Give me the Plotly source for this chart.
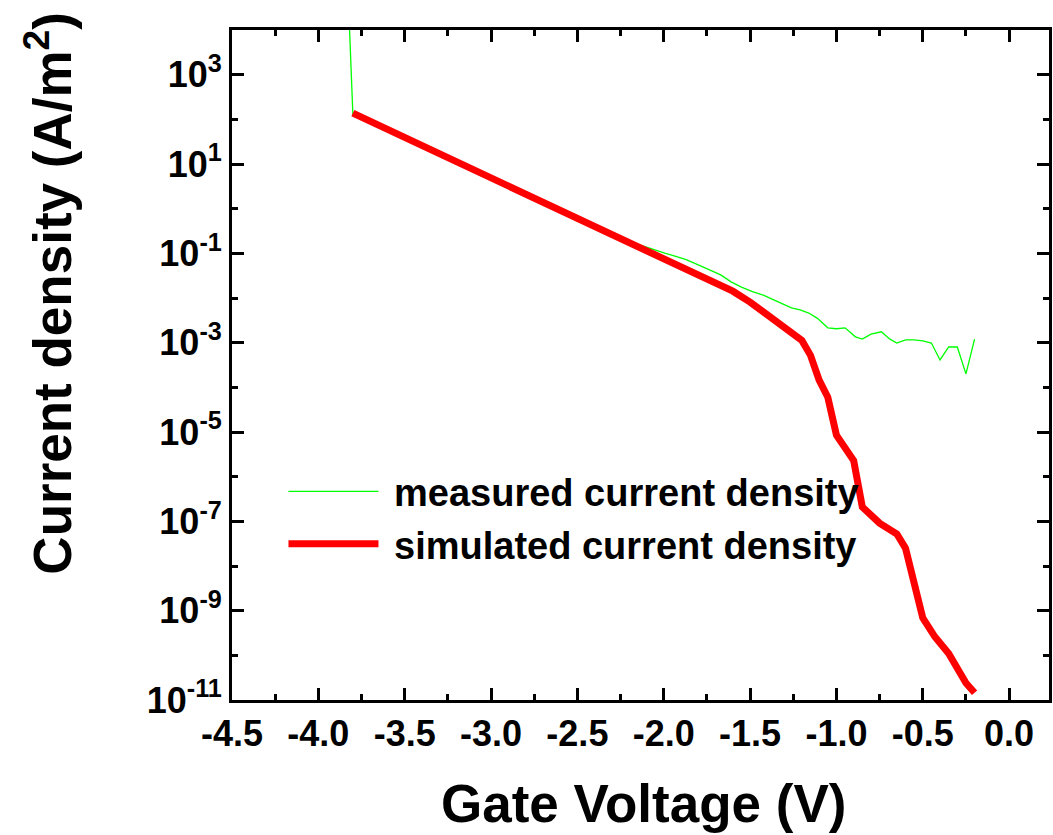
import plotly.graph_objects as go

# Gate voltage (V) and current density (A/m^2)
meas_v = [-3.82, -3.80, -3.60, -3.40, -3.20, -3.00, -2.80, -2.60, -2.40, -2.20,
          -2.13, -2.06, -1.99, -1.93, -1.87, -1.80, -1.74, -1.67, -1.61, -1.55,
          -1.49, -1.42, -1.36, -1.30, -1.26, -1.21, -1.16, -1.11, -1.05, -1.00,
          -0.95, -0.89, -0.85, -0.80, -0.74, -0.69, -0.65, -0.60, -0.55, -0.50,
          -0.45, -0.40, -0.35, -0.30, -0.25, -0.20]
meas_j = [1.2e4, 1.30e2, 5.6e1, 2.4e1, 1.05e1, 4.6, 2.0, 8.7e-1, 3.8e-1, 1.65e-1,
          1.50e-1, 1.20e-1, 1.00e-1, 8.6e-2, 7.2e-2, 5.5e-2, 4.3e-2, 3.3e-2, 2.3e-2, 1.75e-2,
          1.40e-2, 1.15e-2, 9.0e-3, 7.0e-3, 6.0e-3, 5.4e-3, 4.6e-3, 3.5e-3, 2.15e-3, 2.05e-3,
          2.15e-3, 1.35e-3, 1.20e-3, 1.55e-3, 1.75e-3, 1.20e-3, 9.8e-4, 1.15e-3, 1.15e-3, 1.10e-3,
          9.8e-4, 4.1e-4, 8.0e-4, 8.0e-4, 2.0e-4, 1.2e-3]

sim_v = [-3.80, -3.60, -3.40, -3.20, -3.00, -2.80, -2.60, -2.40, -2.20, -2.00,
         -1.80, -1.70, -1.60, -1.50, -1.40, -1.33, -1.25, -1.20, -1.15, -1.10,
         -1.05, -1.00, -0.90, -0.85, -0.75, -0.65, -0.60, -0.55, -0.50, -0.43,
         -0.35, -0.25, -0.20]
sim_j = [1.38e2, 6.0e1, 2.6e1, 1.13e1, 4.9, 2.1, 9.3e-1, 4.1e-1, 1.78e-1, 7.9e-2,
         3.6e-2, 2.3e-2, 1.42e-2, 8.1e-3, 4.2e-3, 2.6e-3, 1.55e-3, 1.12e-3, 5.2e-4, 1.45e-4,
         6.0e-5, 8.5e-6, 2.3e-6, 2.1e-7, 9.1e-8, 5.2e-8, 2.5e-8, 3.4e-9, 6.9e-10, 2.6e-10,
         1.1e-10, 2.4e-11, 1.45e-11]

x_ticks = [-4.5, -4.0, -3.5, -3.0, -2.5, -2.0, -1.5, -1.0, -0.5, 0.0]
x_tick_text = ["-4.5", "-4.0", "-3.5", "-3.0", "-2.5", "-2.0", "-1.5", "-1.0", "-0.5", "0.0"]
x_minor = [-4.25, -3.75, -3.25, -2.75, -2.25, -1.75, -1.25, -0.75, -0.25]
y_exponents = [3, 1, -1, -3, -5, -7, -9, -11]
y_minor_exponents = [2, 0, -2, -4, -6, -8, -10]

FONT = "Liberation Sans, Arial, sans-serif"
NBSP = "\u00a0"

fig = go.Figure()
fig.add_trace(go.Scatter(
    x=meas_v, y=meas_j, mode="lines", name=NBSP + "measured current density",
    line=dict(color="#00ff00", width=1.3),
))
fig.add_trace(go.Scatter(
    x=sim_v, y=sim_j, mode="lines", name=NBSP + "simulated current density",
    line=dict(color="#ff0000", width=7),
))

axis_common = dict(
    showline=True, linecolor="black", linewidth=3, mirror="allticks",
    ticks="inside", ticklen=12, tickwidth=3, tickcolor="black",
    showgrid=False, zeroline=False,
    tickfont=dict(family=FONT, size=36, color="black", weight="bold"),
)

fig.update_xaxes(
    range=[-4.5, 0.231],
    tickmode="array", tickvals=x_ticks, ticktext=x_tick_text,
    minor=dict(tickmode="array", tickvals=x_minor, ticks="inside",
               ticklen=6, tickwidth=3, tickcolor="black"),
    ticklabelstandoff=0,
    **axis_common,
)
fig.update_yaxes(
    type="log", range=[-11, 4],
    tickmode="array",
    tickvals=[10.0 ** e for e in y_exponents],
    ticktext=[f"10<sup>{e}</sup>" for e in y_exponents],
    minor=dict(tickmode="array", tickvals=[10.0 ** e for e in y_minor_exponents],
               ticks="inside", ticklen=6, tickwidth=3, tickcolor="black"),
    ticklabelstandoff=0,
    **axis_common,
)

fig.add_annotation(
    text="Gate Voltage (V)", xref="paper", yref="paper", x=0.504, y=-0.1545,
    xanchor="center", yanchor="middle", showarrow=False,
    font=dict(family=FONT, size=53, color="black", weight="bold"),
)
fig.add_annotation(
    text="Current density (A/m<sup>2</sup>)", xref="paper", yref="paper",
    x=-0.2244, y=0.606, textangle=-90,
    xanchor="center", yanchor="middle", showarrow=False,
    font=dict(family=FONT, size=53, color="black", weight="bold"),
)

fig.update_layout(
    width=1053, height=835,
    margin=dict(l=232, r=1, t=30, b=135),
    paper_bgcolor="white", plot_bgcolor="white",
    showlegend=True,
    legend=dict(
        x=0.063, y=0.358, xanchor="left", yanchor="top",
        bgcolor="rgba(0,0,0,0)", itemwidth=90, tracegroupgap=0,
        font=dict(family=FONT, size=38, color="black", weight="bold"),
    ),
)

fig.write_html("out.html")
